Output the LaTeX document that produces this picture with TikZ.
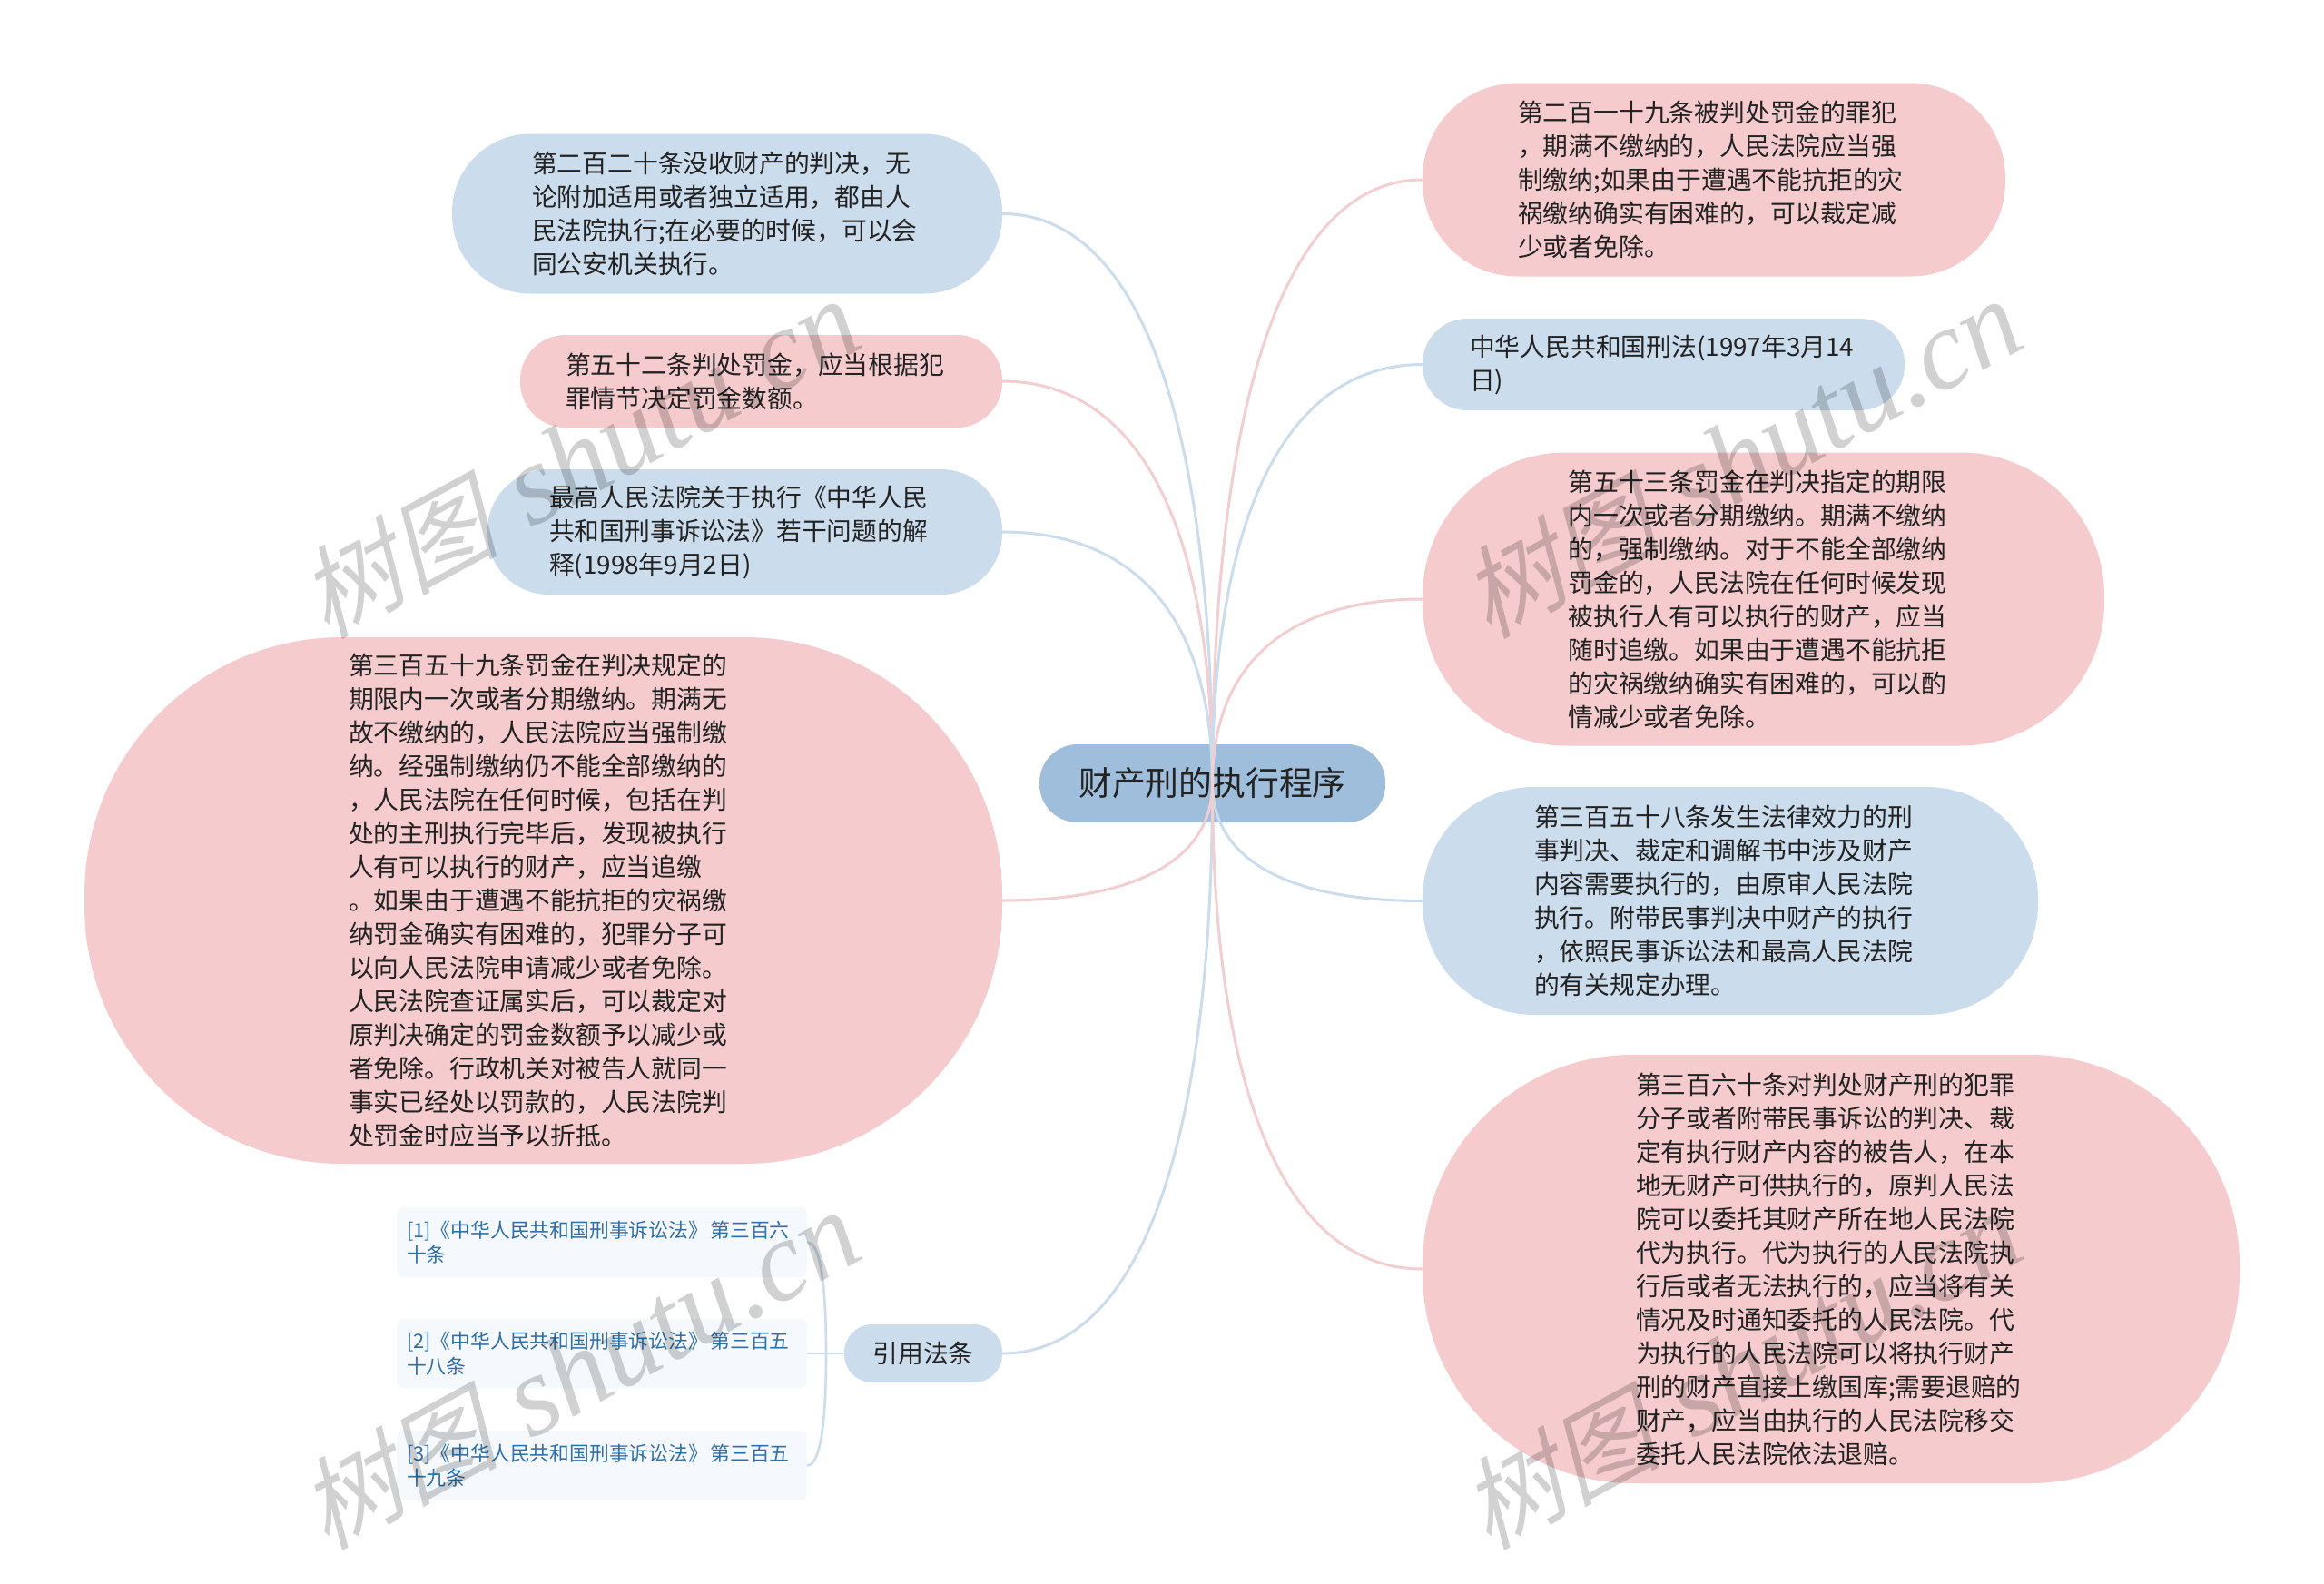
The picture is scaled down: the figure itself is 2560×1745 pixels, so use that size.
\documentclass[tikz,border=0pt]{standalone}
\usepackage{fontspec}
\usetikzlibrary{calc}
\setmainfont{Noto Sans CJK SC}
\newfontfamily\wmcjk[FakeSlant=0.25]{Noto Sans CJK SC}
\newfontfamily\wmlat{Liberation Serif}
\definecolor{pinkfill}{HTML}{F5CBCD}
\definecolor{bluefill}{HTML}{CBDCEC}
\definecolor{rootfill}{HTML}{9FBEDB}
\definecolor{citefill}{HTML}{F5F9FD}
\definecolor{citetext}{HTML}{2F6FA7}
\definecolor{inktext}{HTML}{222222}
\definecolor{pinkline}{HTML}{F2CED0}
\definecolor{blueline}{HTML}{CBDCEC}
\tikzset{
  sized/.style n args={3}{minimum width=#1*0.5pt,minimum height=#2*0.5pt,text width=#3*0.5pt,rounded corners=#2*0.245pt},
  topic/.style={inner sep=0pt,outer sep=0pt,align=left,text=inktext,font=\fontsize{13.9pt}{18.5pt}\selectfont},
  pinkbox/.style={topic,fill=pinkfill},
  bluebox/.style={topic,fill=bluefill},
  rootbox/.style={inner sep=0pt,outer sep=0pt,fill=rootfill,text=inktext,align=center,minimum width=190.5pt,minimum height=43pt,rounded corners=21pt,font=\fontsize{18.4pt}{22pt}\selectfont},
  lawhead/.style={inner sep=0pt,outer sep=0pt,fill=bluefill,text=inktext,align=center,minimum width=87pt,minimum height=32pt,rounded corners=15.5pt,font=\fontsize{13.9pt}{18.5pt}\selectfont},
  citebox/.style={inner sep=0pt,outer sep=0pt,fill=citefill,text=citetext,align=left,minimum width=226pt,minimum height=38.5pt,text width=215pt,rounded corners=4pt,font=\fontsize{10.9pt}{13.85pt}\selectfont},
  pinkconn/.style={draw=pinkline,line width=1.5pt},
  blueconn/.style={draw=blueline,line width=1.5pt},
  lawconn/.style={draw=blueline,line width=1.3pt},
  wmark/.style={rotate=28.5,text=black,text opacity=0.18,inner sep=0pt},
}
\newcommand{\rootconn}[2]{\draw[#2] (#1) .. controls ($(#1)!0.63!(root.center |- #1)$) and ($(root.center |- #1)!0.34!(root.center)$) .. (root.center);}
\newcommand{\lawconnect}[1]{\draw[lawconn] (#1.east) .. controls ($(#1.east)!0.67!(lawjoin |- #1.east)$) and ($(lawjoin)!0.65!(lawjoin |- #1.east)$) .. (lawjoin);}
\newcommand{\wmtext}{{\wmcjk\fontsize{55pt}{60pt}\selectfont 树图}{\wmlat\itshape\fontsize{63pt}{60pt}\selectfont\kern2pt\ shutu.cn}}
\begin{document}
\begin{tikzpicture}[x=0.5pt,y=-0.5pt]
\useasboundingbox (0,0) rectangle (2560,1745);
\fill[white] (0,0) rectangle (2560,1745);

\node[rootbox] (root) at (1335.5,863) {财产刑的执行程序};

\node[bluebox,sized={606}{176}{430}] (n1) at (801,235.5) {第二百二十条没收财产的判决，无\\论附加适用或者独立适用，都由人\\民法院执行;在必要的时候，可以会\\同公安机关执行。};
\node[pinkbox,sized={531}{102}{431}] (n2) at (838.5,420) {第五十二条判处罚金，应当根据犯\\罪情节决定罚金数额。};
\node[bluebox,sized={567}{138}{431}] (n3) at (820.5,586) {最高人民法院关于执行《中华人民\\共和国刑事诉讼法》若干问题的解\\释(1998年9月2日)};
\node[pinkbox,sized={1011}{580}{429}] (n4) at (598.5,992) {第三百五十九条罚金在判决规定的\\期限内一次或者分期缴纳。期满无\\故不缴纳的，人民法院应当强制缴\\纳。经强制缴纳仍不能全部缴纳的\\，人民法院在任何时候，包括在判\\处的主刑执行完毕后，发现被执行\\人有可以执行的财产，应当追缴\\。如果由于遭遇不能抗拒的灾祸缴\\纳罚金确实有困难的，犯罪分子可\\以向人民法院申请减少或者免除。\\人民法院查证属实后，可以裁定对\\原判决确定的罚金数额予以减少或\\者免除。行政机关对被告人就同一\\事实已经处以罚款的，人民法院判\\处罚金时应当予以折抵。};

\node[lawhead] (lawhead) at (1017,1491) {引用法条};
\node[citebox] (c1) at (663,1368.5) {[1]《中华人民共和国刑事诉讼法》~\kern-2.4pt第三百六\\十条};
\node[citebox] (c2) at (663,1491) {[2]《中华人民共和国刑事诉讼法》~\kern-2.4pt第三百五\\十八条};
\node[citebox] (c3) at (663,1614.5) {[3]《中华人民共和国刑事诉讼法》~\kern-2.4pt第三百五\\十九条};
\coordinate (lawjoin) at (910,1491);

\node[pinkbox,sized={642}{213}{432}] (r1) at (1888,198) {第二百一十九条被判处罚金的罪犯\\，期满不缴纳的，人民法院应当强\\制缴纳;如果由于遭遇不能抗拒的灾\\祸缴纳确实有困难的，可以裁定减\\少或者免除。};
\node[bluebox,sized={531}{101}{427}] (r2) at (1832.5,401.5) {中华人民共和国刑法(1997年3月14\\日)};
\node[pinkbox,sized={751}{323}{430}] (r3) at (1942.5,660) {第五十三条罚金在判决指定的期限\\内一次或者分期缴纳。期满不缴纳\\的，强制缴纳。对于不能全部缴纳\\罚金的，人民法院在任何时候发现\\被执行人有可以执行的财产，应当\\随时追缴。如果由于遭遇不能抗拒\\的灾祸缴纳确实有困难的，可以酌\\情减少或者免除。};
\node[bluebox,sized={678}{251}{432}] (r4) at (1906,992.5) {第三百五十八条发生法律效力的刑\\事判决、裁定和调解书中涉及财产\\内容需要执行的，由原审人民法院\\执行。附带民事判决中财产的执行\\，依照民事诉讼法和最高人民法院\\的有关规定办理。};
\node[pinkbox,sized={900}{472}{430}] (r5) at (2017,1398) {第三百六十条对判处财产刑的犯罪\\分子或者附带民事诉讼的判决、裁\\定有执行财产内容的被告人，在本\\地无财产可供执行的，原判人民法\\院可以委托其财产所在地人民法院\\代为执行。代为执行的人民法院执\\行后或者无法执行的，应当将有关\\情况及时通知委托的人民法院。代\\为执行的人民法院可以将执行财产\\刑的财产直接上缴国库;需要退赔的\\财产，应当由执行的人民法院移交\\委托人民法院依法退赔。};

\rootconn{n1.east}{blueconn}
\rootconn{n2.east}{pinkconn}
\rootconn{n3.east}{blueconn}
\rootconn{n4.east}{pinkconn}
\rootconn{lawhead.east}{blueconn}
\rootconn{r1.west}{pinkconn}
\rootconn{r2.west}{blueconn}
\rootconn{r3.west}{pinkconn}
\rootconn{r4.west}{blueconn}
\rootconn{r5.west}{pinkconn}
\draw[lawconn] (c2.east) -- (lawhead.west);
\lawconnect{c1}
\lawconnect{c3}

\node[wmark] (wm1) at (638,506) {\wmtext};
\node[wmark] (wm2) at (1918,506) {\wmtext};
\node[wmark] (wm3) at (638,1510) {\wmtext};
\node[wmark] (wm4) at (1918,1510) {\wmtext};
\end{tikzpicture}
\end{document}
